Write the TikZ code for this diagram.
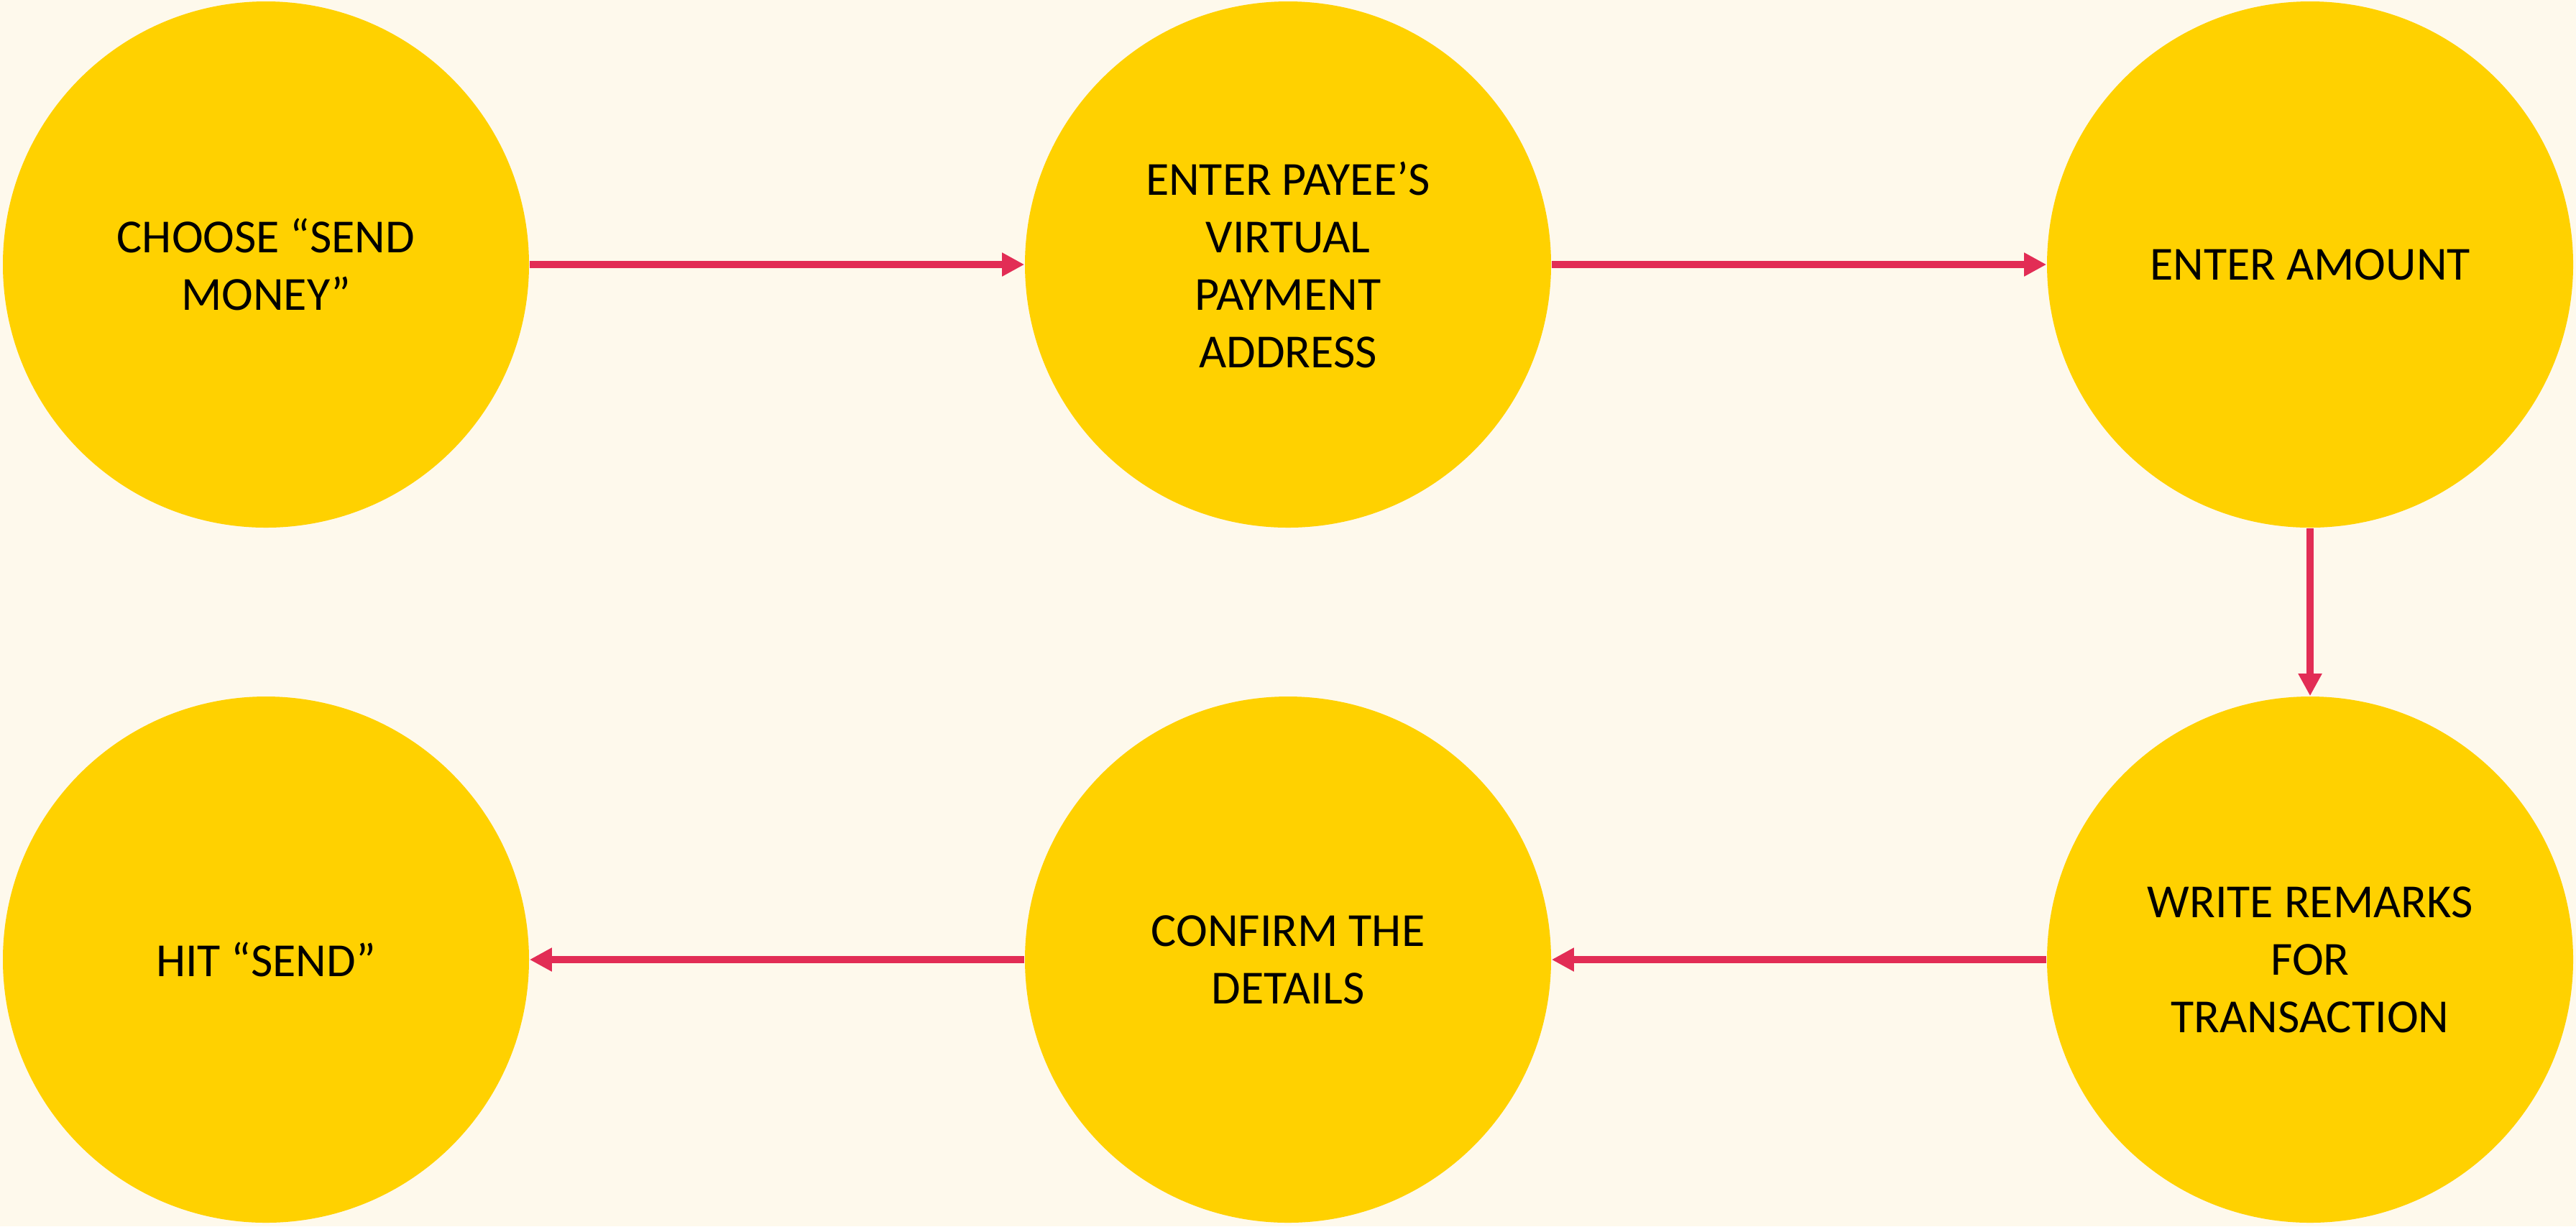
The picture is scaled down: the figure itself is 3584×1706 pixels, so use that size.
\documentclass[tikz,border=0pt]{standalone}
\usepackage{fontspec}
\setmainfont{Carlito}
\usetikzlibrary{arrows.meta}
\definecolor{bgc}{HTML}{FEF9EC}
\definecolor{circc}{HTML}{FFD100}
\definecolor{arrc}{HTML}{E22D55}
\tikzset{
  stepcircle/.style={circle, fill=circc, draw=none, minimum size=183pt, inner sep=0pt,
    align=center, font=\fontsize{16.5pt}{20pt}\selectfont, text=black},
  flowarrow/.style={draw=arrc, line width=2.5pt, -{Triangle[length=7.75pt,width=7.75pt]}, shorten >=0pt}
}
\begin{document}
\begin{tikzpicture}[x=0.25pt,y=-0.25pt]
\fill[bgc] (0,0) rectangle (3584,1706);
\useasboundingbox (0,0) rectangle (3584,1706);
\node[stepcircle] (s1) at (370,368) {CHOOSE “SEND\\MONEY”};
\node[stepcircle] (s2) at (1792,368) {ENTER PAYEE’S\\VIRTUAL\\PAYMENT\\ADDRESS};
\node[stepcircle] (s3) at (3214,368) {ENTER AMOUNT};
\node[stepcircle] (s6) at (3214,1335) {WRITE REMARKS\\FOR\\TRANSACTION};
\node[stepcircle] (s5) at (1792,1335) {CONFIRM THE\\DETAILS};
\node[stepcircle] (s4) at (370,1335) {HIT “SEND”};
\draw[flowarrow] (s1) -- (s2);
\draw[flowarrow] (s2) -- (s3);
\draw[flowarrow] (s3) -- (s6);
\draw[flowarrow] (s6) -- (s5);
\draw[flowarrow] (s5) -- (s4);
\end{tikzpicture}
\end{document}
